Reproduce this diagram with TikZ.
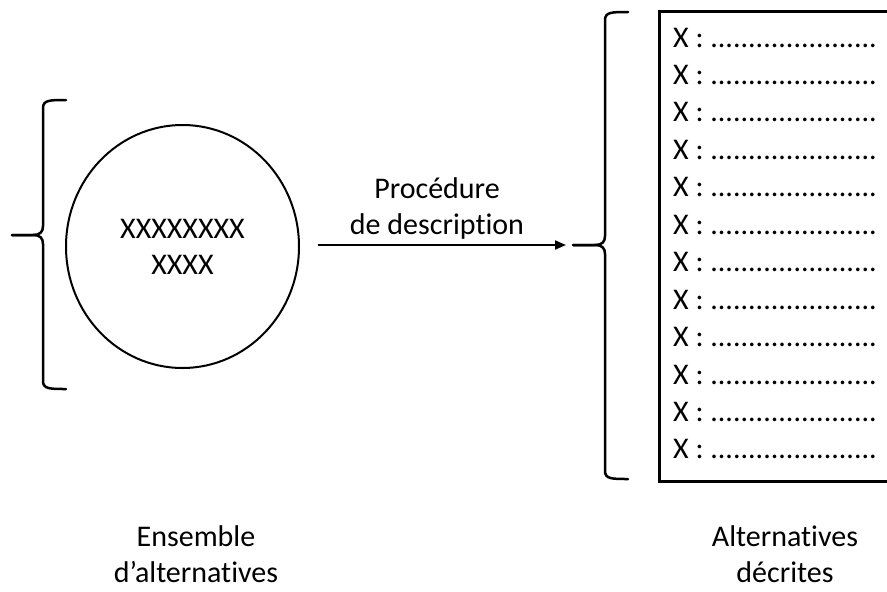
\documentclass[tikz,border=0pt]{standalone}
\usepackage{fontspec}
\setmainfont{Carlito}[RawFeature={-liga;-clig}]
\usetikzlibrary{arrows.meta,shapes.geometric}
\begin{document}
\begin{tikzpicture}[x=1pt,y=-1pt,
  lbl/.style={font=\fontsize{30}{36}\selectfont, align=center, inner sep=0pt},
  rowtext/.style={font=\fontsize{30}{36}\selectfont, inner sep=0pt, anchor=base west},
  bracestyle/.style={line width=2.5pt, line cap=round, line join=round},
  conn/.style={line width=2pt, -{Triangle[length=11pt,width=9pt]}},
]
\useasboundingbox (0,0) rectangle (887,592);
\clip (0,0) rectangle (887,592);

% left set
\node[ellipse, draw, line width=2pt, minimum width=233pt, minimum height=243pt, inner sep=0pt, lbl] (set) at (182.5,246.5) {XXXXXXXX\\XXXX};

% left brace
\coordinate (lbtip) at (12,235);
\draw[bracestyle] (66,100) .. controls (50,100) and (43,100) .. (43,108) -- (43,226)
  .. controls (43,232) and (40,235) .. (33,235) -- (lbtip);
\draw[bracestyle] (lbtip) -- (33,235) .. controls (40,235) and (43,238) .. (43,244)
  -- (43,381) .. controls (43,389) and (50,389) .. (66,389);

% right brace
\coordinate (rbtip) at (573,245);
\draw[bracestyle] (628,12) .. controls (612,12) and (605,12) .. (605,20) -- (605,236)
  .. controls (605,242) and (602,245) .. (595,245) -- (rbtip);
\draw[bracestyle] (rbtip) -- (595,245) .. controls (602,245) and (605,248) .. (605,254)
  -- (605,471) .. controls (605,479) and (612,479) .. (628,479);

% list box
\node[draw, line width=3pt, minimum width=270pt, minimum height=470pt, anchor=north west, inner sep=0pt] (list) at (658,10) {};
\foreach \i in {1,...,12}{
  \node[rowtext] (r\i) at (673,{47+(\i-1)*37.45}) {X : ......................};
}

% arrow
\draw[conn, shorten <=18pt, shorten >=7pt] (set.east |- rbtip) -- (rbtip);
\node[lbl] (proc) at (437,208) {Procédure\\de description};

% captions
\node[lbl] (capl) at (196,554) {Ensemble\\d’alternatives};
\node[lbl] (capr) at (785,554) {Alternatives\\décrites};
\end{tikzpicture}
\end{document}
